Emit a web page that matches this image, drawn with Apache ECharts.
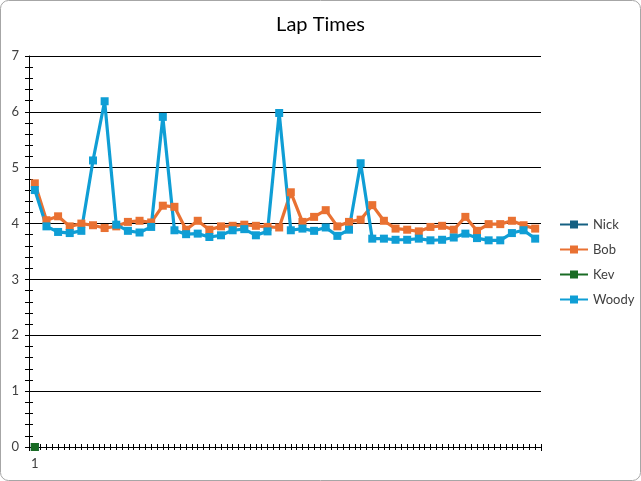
<!DOCTYPE html>
<html><head><meta charset="utf-8">
<script src="https://cdn.jsdelivr.net/npm/echarts@6/dist/echarts.min.js"></script>
<style>html,body{margin:0;padding:0;background:#fff}#c{width:641px;height:481px}</style>
</head><body><div id="c"></div>
<script>
const categories = Array.from({length:44},(_,i)=>String(i+1));
const nick = [0];
const bob = [4.72,4.06,4.13,3.95,4.00,3.97,3.92,3.95,4.03,4.05,4.02,4.32,4.30,3.89,4.05,3.89,3.95,3.96,3.98,3.96,3.94,3.93,
             4.56,4.03,4.12,4.24,3.95,4.03,4.07,4.33,4.05,3.91,3.89,3.86,3.94,3.96,3.89,4.12,3.87,3.99,3.99,4.05,3.97,3.91];
const kev = [0];
const woody = [4.60,3.95,3.85,3.83,3.87,5.13,6.19,3.98,3.87,3.84,3.94,5.91,3.88,3.81,3.82,3.76,3.79,3.88,3.90,3.79,3.86,5.98,
               3.88,3.91,3.87,3.93,3.78,3.89,5.08,3.73,3.73,3.71,3.71,3.73,3.70,3.71,3.75,3.82,3.74,3.70,3.70,3.83,3.88,3.73];
const yTicks = {min:0,max:7,interval:1};

const font = 'Lato, "Liberation Sans", sans-serif';
const chart = echarts.init(document.getElementById('c'));
function mk(name,data,color){
  return {name,type:'line',data,xAxisIndex:0,yAxisIndex:0,symbol:'rect',symbolSize:8,showSymbol:true,showAllSymbol:true,
    lineStyle:{width:3.2,color},itemStyle:{color},emphasis:{disabled:true},animation:false};
}
chart.setOption({
  animation:false,
  title:{text:'Lap Times',left:'center',top:10,textStyle:{fontFamily:font,fontSize:20,fontWeight:'normal',color:'#000'}},
  graphic:[{type:'rect',shape:{x:0.5,y:0.5,width:640,height:480,r:8},style:{fill:'none',stroke:'#a6a6a6',lineWidth:1},silent:true,z:-1}],
  legend:{orient:'vertical',left:554,top:213,itemWidth:28,itemHeight:10,itemGap:12,
    textStyle:{fontFamily:font,fontSize:13,color:'#404040'},data:['Nick','Bob','Kev','Woody']},
  grid:{left:29,right:100,top:56,bottom:34,containLabel:false},
  xAxis:[
    {type:'category',data:categories,boundaryGap:true,
      axisLine:{lineStyle:{color:'#000',width:1}},
      axisTick:{show:true,length:4,lineStyle:{color:'#000'}},
      axisLabel:{interval:(i)=>i===0,fontFamily:font,fontSize:13,color:'#404040',margin:10},
      splitLine:{show:false}},
    {type:'value',min:0,max:88,interval:1,position:'bottom',
      axisLine:{show:false},axisTick:{show:true,length:3,lineStyle:{color:'#000'}},axisLabel:{show:false},splitLine:{show:false}},
    {type:'value',min:0,max:88,interval:1,position:'bottom',
      axisLine:{show:false},axisTick:{show:true,inside:true,length:3,lineStyle:{color:'#000'}},axisLabel:{show:false},splitLine:{show:false}}
  ],
  yAxis:[
    {type:'value',min:yTicks.min,max:yTicks.max,interval:yTicks.interval,position:'left',
      axisLine:{show:true,lineStyle:{color:'#000',width:1}},
      axisTick:{show:true,length:4,lineStyle:{color:'#000'}},
      minorTick:{show:true,splitNumber:5,length:4,lineStyle:{color:'#000'}},
      axisLabel:{fontFamily:font,fontSize:13,color:'#404040',margin:10},
      splitLine:{show:true,lineStyle:{color:'#000',width:1}}},
    {type:'value',min:yTicks.min,max:yTicks.max,interval:yTicks.interval,position:'left',
      axisLine:{show:false},
      axisTick:{show:true,inside:true,length:4,lineStyle:{color:'#000'}},
      minorTick:{show:true,splitNumber:5,length:4,lineStyle:{color:'#000'}},
      axisLabel:{show:false},splitLine:{show:false}}
  ],
  series:[
    mk('Nick',nick,'#156082'),
    mk('Bob',bob,'#E97132'),
    mk('Kev',kev,'#196B24'),
    mk('Woody',woody,'#0F9ED5')
  ]
});
</script></body></html>
